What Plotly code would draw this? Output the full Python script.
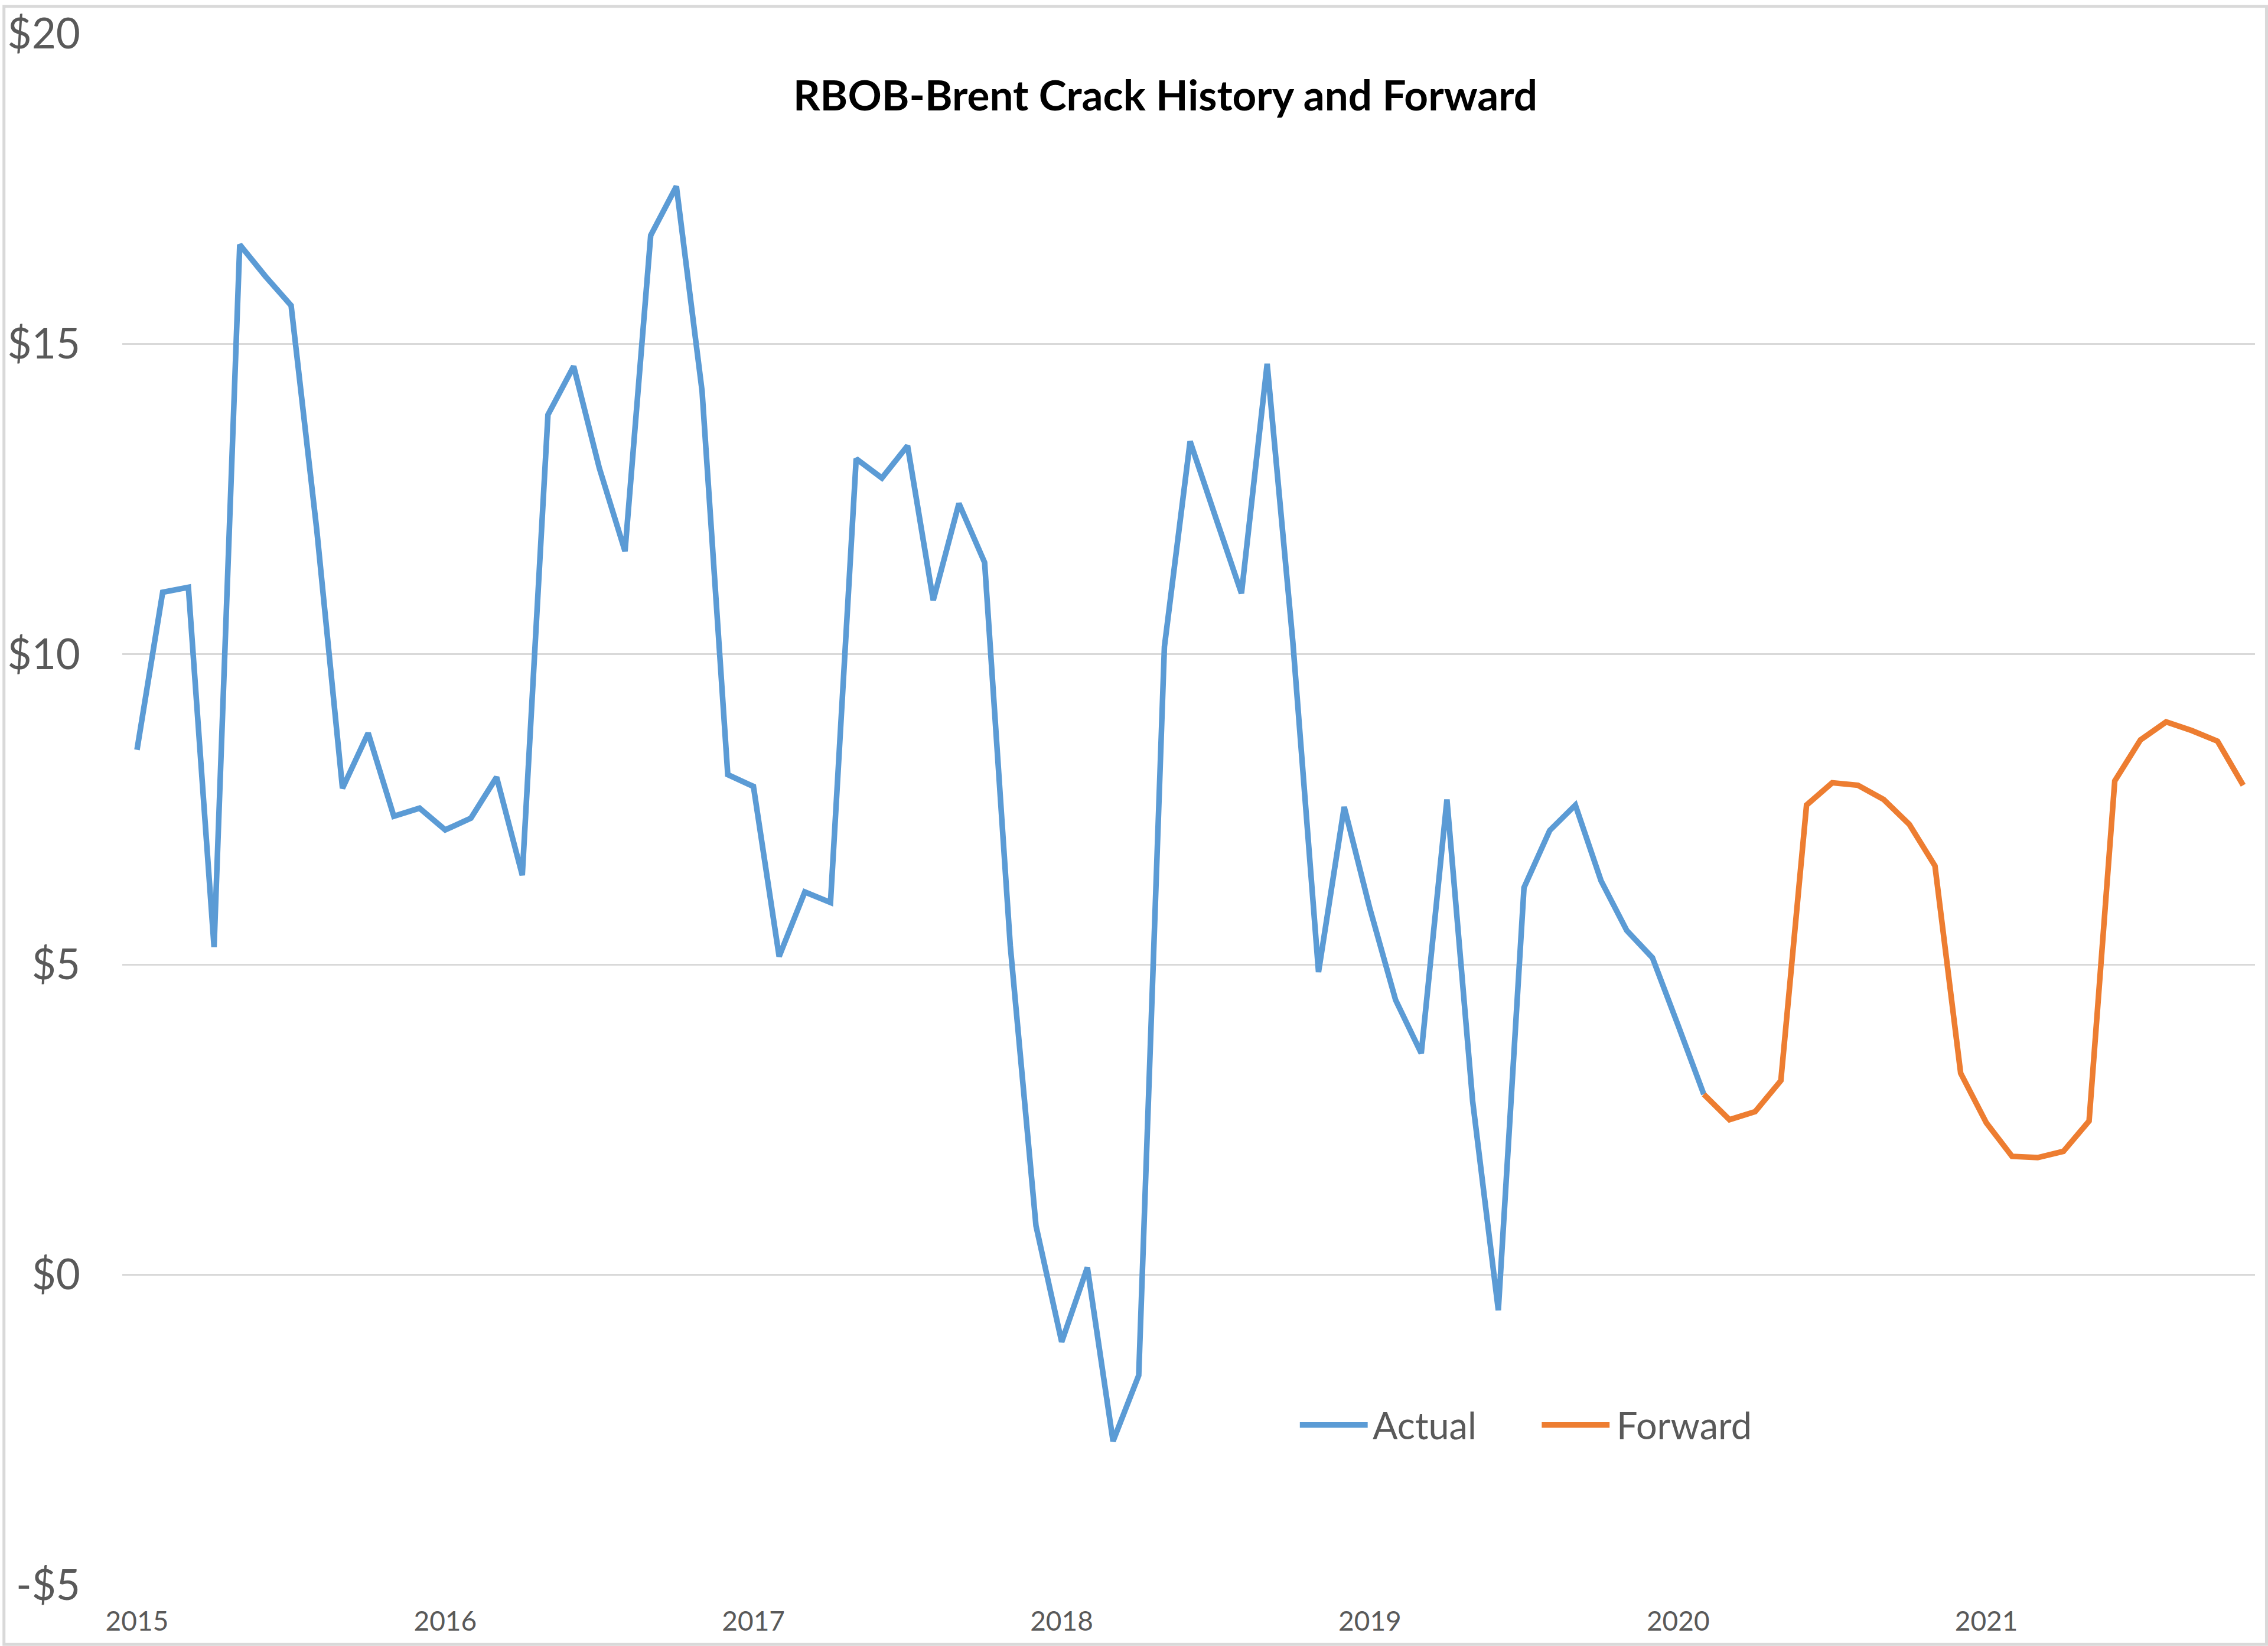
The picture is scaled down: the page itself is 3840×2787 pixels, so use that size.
import pandas as pd
import plotly.graph_objects as go

# ---- data ----
months = [d.strftime("%Y-%m") for d in pd.date_range("2015-01-01", "2021-11-01", freq="MS")]

actual_values = [
    8.46, 11.00, 11.08, 5.28, 16.60, 16.09, 15.62, 12.00, 7.84, 8.73, 7.39, 7.52,   # 2015
    7.17, 7.36, 8.02, 6.44, 13.86, 14.64, 13.00, 11.66, 16.75, 17.54, 14.24, 8.06,  # 2016
    7.87, 5.13, 6.17, 6.00, 13.15, 12.84, 13.36, 10.87, 12.43, 11.48, 5.30, 0.79,   # 2017
    -1.08, 0.12, -2.68, -1.62, 10.12, 13.43, 12.20, 10.98, 14.68, 10.20, 4.88, 7.54,  # 2018
    5.90, 4.43, 3.57, 7.66, 2.80, -0.57, 6.24, 7.16, 7.57, 6.35, 5.55, 5.11,        # 2019
    4.02, 2.91,                                                                   # 2020
]
forward_values = [
    2.91, 2.50, 2.63, 3.13, 7.57, 7.93, 7.89, 7.66, 7.26, 6.59, 3.25,   # Feb-Dec 2020
    2.45, 1.91, 1.89, 1.99, 2.48, 7.96, 8.62, 8.91, 8.77, 8.60, 7.89,   # Jan-Nov 2021
]
actual_months = months[:len(actual_values)]
forward_months = months[len(actual_values) - 1:len(actual_values) - 1 + len(forward_values)]

year_ticks = ["2015-01", "2016-01", "2017-01", "2018-01", "2019-01", "2020-01", "2021-01"]
year_labels = ["2015", "2016", "2017", "2018", "2019", "2020", "2021"]
y_ticks = [-5, 0, 5, 10, 15, 20]
y_labels = ["-$5", "$0", "$5", "$10", "$15", "$20"]

series_names = ["Actual", "Forward"]
series_colors = ["#5B9BD5", "#ED7D31"]

# ---- figure ----
W, H = 3840, 2787
L, R, T, B = 203, 22, 49, 103
PW, PH = W - L - R, H - T - B

def px(xf):
    return (xf - L) / PW

def py(yf):
    return (H - B - yf) / PH

LW = 9.5

fig = go.Figure()
fig.add_trace(go.Scatter(x=actual_months, y=actual_values, mode="lines", name=series_names[0],
                         line=dict(color=series_colors[0], width=LW), showlegend=False))
fig.add_trace(go.Scatter(x=forward_months, y=forward_values, mode="lines", name=series_names[1],
                         line=dict(color=series_colors[1], width=LW), showlegend=False))

font_family = "Lato, 'Open Sans', sans-serif"

fig.update_layout(
    width=W, height=H,
    margin=dict(l=L, r=R, t=T, b=B, pad=0),
    paper_bgcolor="white", plot_bgcolor="white",
    title=dict(text="<b>RBOB-Brent Crack History and Forward</b>", xref="container", yref="container",
               x=1973 / W, y=1 - 162 / H, xanchor="center", yanchor="middle",
               font=dict(family=font_family, size=71, color="#000000")),
    xaxis=dict(type="category", categoryorder="array", categoryarray=months,
               range=[-0.574, len(months) - 1 + 0.46],
               tickmode="array", tickvals=year_ticks, ticktext=year_labels,
               showgrid=False, zeroline=False, showline=False, ticks="",
               tickfont=dict(family=font_family, size=46, color="#595959"),
               ticklabelstandoff=30),
    yaxis=dict(range=[-5, 20], tickmode="array", tickvals=y_ticks, ticktext=y_labels,
               showgrid=True, gridcolor="#D9D9D9", gridwidth=3,
               zeroline=False, showline=False, ticks="",
               tickfont=dict(family=font_family, size=71, color="#595959"),
               ticklabelstandoff=70),
    showlegend=False,
)

# manual legend (long line samples like the original)
legend_y = py(2412)
legend_items = [(2199, 2314, 2320), (2609, 2724, 2734)]
for (x0, x1, xt), name, color in zip(legend_items, series_names, series_colors):
    fig.add_shape(type="line", xref="paper", yref="paper", x0=px(x0), x1=px(x1), y0=legend_y, y1=legend_y,
                  line=dict(color=color, width=LW))
    fig.add_annotation(xref="paper", yref="paper", x=px(xt), y=legend_y, text=name, showarrow=False,
                       xanchor="left", yanchor="middle",
                       font=dict(family=font_family, size=63, color="#595959"))

# outer chart border
fig.add_shape(type="rect", xref="paper", yref="paper",
              x0=px(2.5), x1=px(W - 2.5), y0=py(H - 2.5), y1=py(2.5),
              line=dict(color="#D9D9D9", width=5), layer="below")

fig.write_html("out.html")
